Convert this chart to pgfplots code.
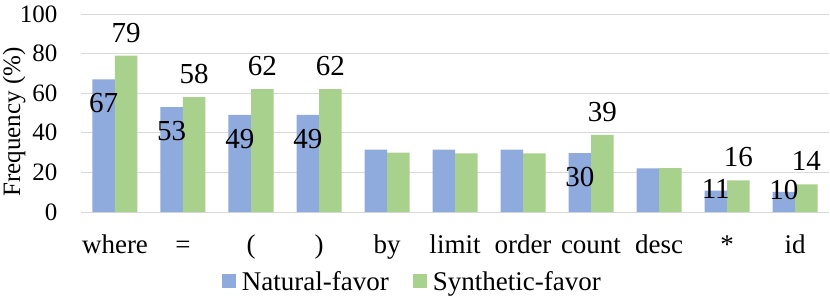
\documentclass[border=0pt]{standalone}
\usepackage{pgfplots}
\usepackage{pgfplotstable}
\pgfplotsset{compat=1.18}
\usepackage{fontspec}
\setmainfont{Liberation Serif}
\definecolor{natblue}{HTML}{8FAADC}
\definecolor{syngreen}{HTML}{A9D18E}
\definecolor{gridgray}{HTML}{D9D9D9}
\pgfplotstableread{
x nat syn natlab synlab natdy
0 67 79 67 79 -24
1 53 58 53 58 -24
2 49 62 49 62 -24
3 49 62 49 62 -24
4 31.5 30 {} {} 0
5 31.5 29.6 {} {} 0
6 31.5 29.6 {} {} 0
7 29.7 39 30 39 -24
8 22 22.2 {} {} 0
9 10.8 16 11 16 2
10 10.2 14 10 14 2
}\datatable
\begin{document}
\begin{tikzpicture}
\begin{axis}[
  name=ax,
  scale only axis,
  width=748pt, height=198pt,
  ybar=0pt, bar width=22.5pt,
  xmin=-0.5, xmax=10.5,
  ymin=0, ymax=100,
  ytick={0,20,...,100},
  xtick={0,...,10},
  xticklabels={where,=,{(},{)},by,limit,order,count,desc,*,id},
  axis line style={draw=none},
  major tick length=0pt,
  ymajorgrids,
  grid style={gridgray, line width=1pt},
  /pgf/number format/assume math mode=true,
  yticklabel style={font=\fontsize{25}{28}\selectfont, xshift=-20pt},
  xticklabel style={font=\fontsize{27}{30}\selectfont, yshift=-20pt, text height=18pt, text depth=6pt},
  ylabel={Frequency (\%)},
  every axis y label/.style={at={(axis description cs:-0.105,0.455)}, rotate=90, anchor=north, inner sep=0pt, font=\fontsize{25}{28}\selectfont},
  legend style={draw=none, at={(axis description cs:0.443,-0.35)}, anchor=center,
    font=\fontsize{27}{30}\selectfont, legend columns=2,
    /tikz/every even column/.append style={column sep=22pt},
    /tikz/every odd column/.append style={column sep=4pt}},
  legend image code/.code={\fill[#1] (0pt,-7pt) rectangle (14pt,7pt);},
  clip=false,
  nodes near coords={\pgfplotspointmeta},
  point meta=explicit symbolic,
  every node near coord/.append style={font=\fontsize{29}{32}\selectfont, anchor=center, inner sep=0pt},
]
\addplot[fill=natblue, draw=none,
  visualization depends on={\thisrow{natdy}\as\dy},
  every node near coord/.append style={yshift=\dy pt}]
  table[x=x, y=nat, meta=natlab]{\datatable};
\addplot[fill=syngreen, draw=none,
  every node near coord/.append style={yshift=23pt}]
  table[x=x, y=syn, meta=synlab]{\datatable};
\legend{Natural-favor, Synthetic-favor}
\end{axis}
\pgfresetboundingbox
\path[use as bounding box] ([shift={(-81pt,-86pt)}]ax.south west) rectangle ([shift={(1pt,14pt)}]ax.north east);
\end{tikzpicture}
\end{document}
